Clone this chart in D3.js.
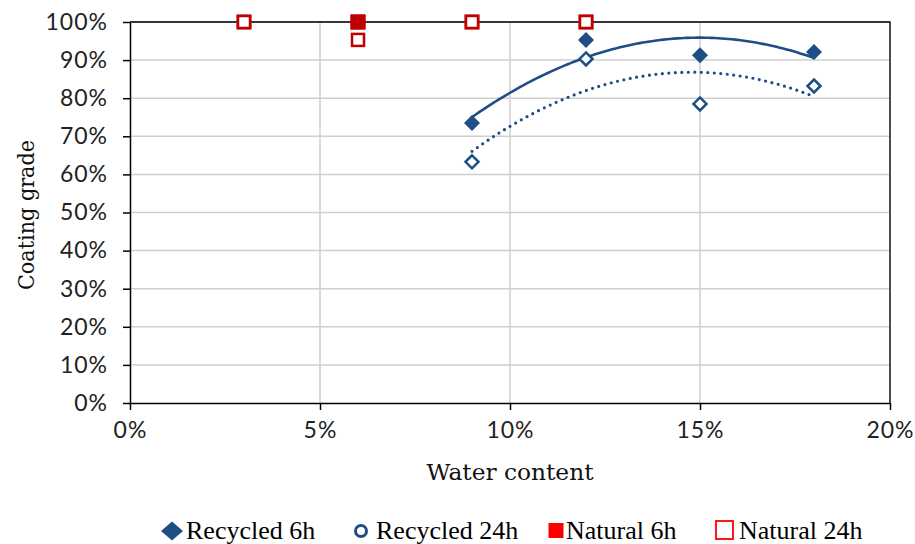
<!DOCTYPE html>
<html><head><meta charset="utf-8">
<script src="https://cdn.jsdelivr.net/npm/d3@7"></script>
<style>body{margin:0;background:#fff;}svg{display:block;}</style>
</head><body>
<svg id="c" width="915" height="544"></svg>
<script>
// Data (water content %, coating grade %)
const recycledX = [9, 12, 15, 18];
const recycled6h = [73.5, 95.3, 91.3, 92.1];
const recycled24h = [63.3, 90.3, 78.5, 83.2];
const naturalX = [3, 6, 9, 12];
const natural6h = [100, 100, 100, 100];
const natural24h = [100, 95.3, 100, 100];
const xTicks = [0, 5, 10, 15, 20];
const yTicks = [0, 10, 20, 30, 40, 50, 60, 70, 80, 90, 100];
const legendLabels = ["Recycled 6h", "Recycled 24h", "Natural 6h", "Natural 24h"];

const blue = "#1F4E86", darkRed = "#C00000", red = "#FF0000";
const svg = d3.select("#c");
const L = 130, R = 890, T = 22, B = 403;
const x = d3.scaleLinear().domain([0, 20]).range([L, R]);
const y = d3.scaleLinear().domain([0, 100]).range([B, T]);

// gridlines
svg.append("g").selectAll("line").data(xTicks.slice(1)).join("line")
  .attr("x1", d => x(d)).attr("x2", d => x(d)).attr("y1", T).attr("y2", B)
  .attr("stroke", "#CFCFCF").attr("stroke-width", 1.5);
svg.append("g").selectAll("line").data(yTicks.slice(1)).join("line")
  .attr("x1", L).attr("x2", R).attr("y1", d => y(d)).attr("y2", d => y(d))
  .attr("stroke", "#CFCFCF").attr("stroke-width", 1.5);
// border top/right
svg.append("path").attr("d", `M${L},${T}H${R}V${B}`).attr("fill", "none").attr("stroke", "#000").attr("stroke-width", 1.3);

const tickFont = "Lato, 'Open Sans', sans-serif";
const yAxis = svg.append("g").attr("transform", `translate(${L},0)`)
  .call(d3.axisLeft(y).tickValues(yTicks).tickFormat(d => d + "%").tickSize(7).tickSizeOuter(0).tickPadding(15));
const xAxis = svg.append("g").attr("transform", `translate(0,${B})`)
  .call(d3.axisBottom(x).tickValues(xTicks).tickFormat(d => d + "%").tickSize(7).tickSizeOuter(0).tickPadding(12));
[yAxis, xAxis].forEach(a => {
  a.select(".domain").attr("stroke", "#000").attr("stroke-width", 1.5);
  a.selectAll(".tick line").attr("stroke", "#000").attr("stroke-width", 1.5);
  a.selectAll("text").attr("font-family", tickFont).attr("font-size", 23)
    .attr("letter-spacing", "1px").attr("fill", "#222");
});

// axis titles
const serif = "'Liberation Serif', 'Times New Roman', serif";
svg.append("text").attr("x", 510).attr("y", 480).attr("text-anchor", "middle")
  .attr("font-family", "'DejaVu Serif', serif").attr("font-size", 22)
  .attr("textLength", 167).attr("lengthAdjust", "spacingAndGlyphs")
  .attr("fill", "#111").text("Water content");
svg.append("text").attr("transform", "translate(34,215) rotate(-90)").attr("text-anchor", "middle")
  .attr("font-family", "'DejaVu Serif', serif").attr("font-size", 22)
  .attr("textLength", 150).attr("lengthAdjust", "spacingAndGlyphs")
  .attr("fill", "#111").text("Coating grade");

// quadratic least-squares trendline
function quadFit(xs, ys) {
  let S = [0,0,0,0,0], T2 = [0,0,0];
  xs.forEach((xi, i) => {
    for (let k = 0; k < 5; k++) S[k] += Math.pow(xi, k);
    for (let k = 0; k < 3; k++) T2[k] += ys[i] * Math.pow(xi, k);
  });
  const A = [[S[0],S[1],S[2],T2[0]],[S[1],S[2],S[3],T2[1]],[S[2],S[3],S[4],T2[2]]];
  for (let i = 0; i < 3; i++) {
    let p = i; for (let r = i+1; r < 3; r++) if (Math.abs(A[r][i]) > Math.abs(A[p][i])) p = r;
    [A[i], A[p]] = [A[p], A[i]];
    for (let r = 0; r < 3; r++) if (r !== i) {
      const f = A[r][i] / A[i][i];
      for (let c = i; c < 4; c++) A[r][c] -= f * A[i][c];
    }
  }
  const c = A.map((row, i) => row[3] / row[i]);
  return xv => c[0] + c[1]*xv + c[2]*xv*xv;
}
const line = d3.line().x(d => x(d[0])).y(d => y(d[1])).curve(d3.curveLinear);
function trend(ys, dash) {
  const f = quadFit(recycledX, ys);
  const pts = d3.range(0, 101).map(i => { const xv = 9 + i * 0.09; return [xv, f(xv)]; });
  const p = svg.append("path").attr("d", line(pts)).attr("fill", "none").attr("stroke", blue)
    .attr("stroke-width", dash ? 3.2 : 2.6).attr("stroke-linecap", "round");
  if (dash) p.attr("stroke-dasharray", "0 6.5");
}
trend(recycled6h, false);
trend(recycled24h, true);

const diamond = (w, h) => `M0,${-h}L${w},0L0,${h}L${-w},0Z`;
// Recycled 6h
svg.append("g").selectAll("path").data(recycledX.map((d, i) => [d, recycled6h[i]])).join("path")
  .attr("transform", d => `translate(${x(d[0])},${y(d[1])})`).attr("d", diamond(8, 8)).attr("fill", blue);
// Recycled 24h
svg.append("g").selectAll("path").data(recycledX.map((d, i) => [d, recycled24h[i]])).join("path")
  .attr("transform", d => `translate(${x(d[0])},${y(d[1])})`).attr("d", diamond(6.5, 6.5))
  .attr("fill", "#fff").attr("stroke", blue).attr("stroke-width", 2.5);
// Natural 6h
svg.append("g").selectAll("rect").data(naturalX.map((d, i) => [d, natural6h[i]])).join("rect")
  .attr("x", d => x(d[0]) - 7.5).attr("y", d => y(d[1]) - 7.5).attr("width", 15).attr("height", 15)
  .attr("fill", darkRed);
// Natural 24h (the 100% point at 6% lies under the Natural 6h marker)
svg.append("g").selectAll("rect").data(naturalX.map((d, i) => [d, natural24h[i], natural6h[i]])
    .filter(d => !(d[0] === 6 && d[1] === d[2]))).join("rect")
  .attr("x", d => x(d[0]) - 6).attr("y", d => y(d[1]) - 6).attr("width", 12).attr("height", 12)
  .attr("fill", "#fff").attr("stroke", darkRed).attr("stroke-width", 2.5);
// redraw Natural 6h at 6% on top
svg.append("g").selectAll("rect").data(naturalX.map((d, i) => [d, natural6h[i]]).filter(d => d[0] === 6)).join("rect")
  .attr("x", d => x(d[0]) - 7.5).attr("y", d => y(d[1]) - 7.5).attr("width", 15).attr("height", 15)
  .attr("fill", darkRed);

// Legend
const lg = svg.append("g").attr("font-family", serif).attr("font-size", 26).attr("fill", "#000");
const ly = 531;
const items = [
  {x: 172, tx: 186, label: legendLabels[0]},
  {x: 361, tx: 376, label: legendLabels[1]},
  {x: 556, tx: 566, label: legendLabels[2]},
  {x: 724, tx: 739, label: legendLabels[3]}
];
lg.append("path").attr("transform", `translate(${items[0].x},${ly})`).attr("d", diamond(11, 9.5)).attr("fill", blue);
lg.append("circle").attr("cx", items[1].x).attr("cy", ly).attr("r", 5.5).attr("fill", "#fff").attr("stroke", blue).attr("stroke-width", 3);
lg.append("rect").attr("x", items[2].x - 7.5).attr("y", ly - 8).attr("width", 15).attr("height", 15).attr("fill", red);
lg.append("rect").attr("x", items[3].x - 8).attr("y", ly - 10).attr("width", 17).attr("height", 18).attr("fill", "#fff").attr("stroke", red).attr("stroke-width", 1.8);
items.forEach(it => {
  lg.append("text").attr("x", it.tx).attr("y", ly + 8).text(it.label);
});
</script>
</body></html>
